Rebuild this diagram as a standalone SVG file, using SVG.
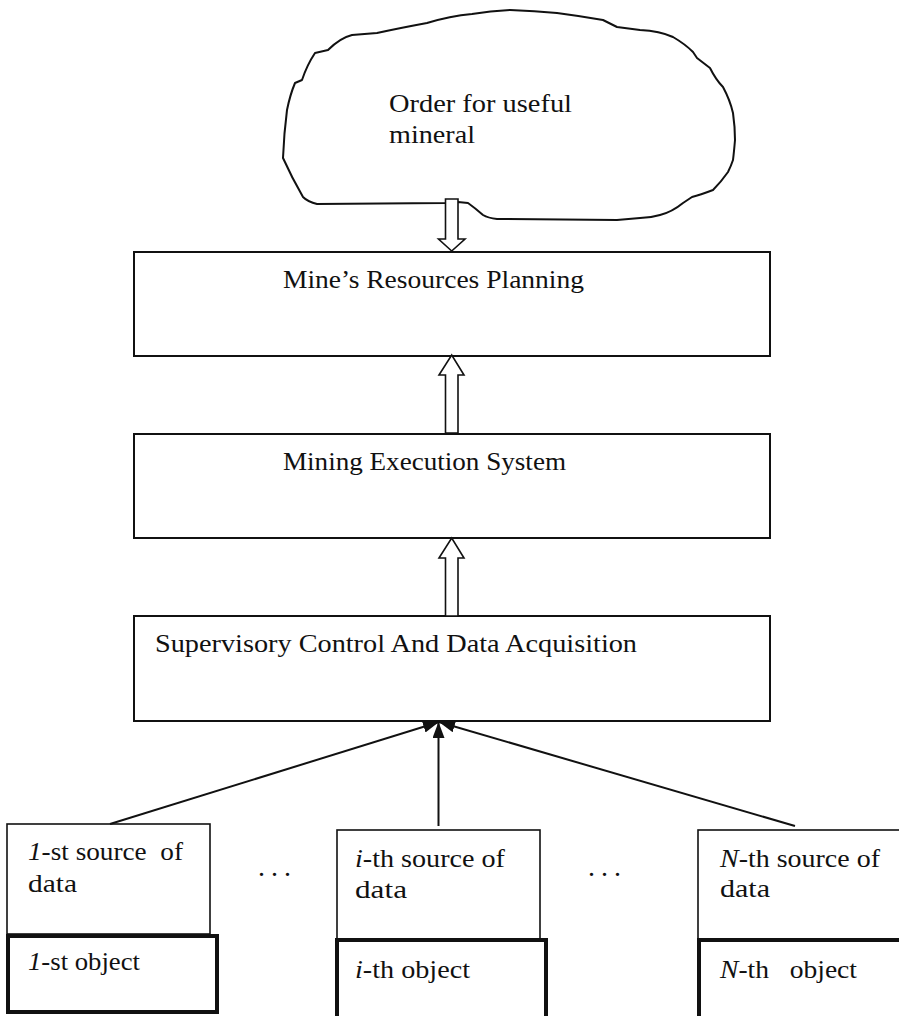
<svg xmlns="http://www.w3.org/2000/svg" width="899" height="1016" viewBox="0 0 899 1016">
  <style>
    text { font-family: "Liberation Serif", "Times New Roman", serif; font-size: 25px; fill: #111; }
    .box { fill: #fff; stroke: #111; stroke-width: 2; }
    .src { fill: #fff; stroke: #111; stroke-width: 1.6; }
    .obj { fill: #fff; stroke: #111; stroke-width: 4; }
    .cloud { fill: #fff; stroke: #111; stroke-width: 2; stroke-linejoin: round; }
    .hollow { fill: #fff; stroke: #111; stroke-width: 1.6; stroke-linejoin: miter; }
    .line { stroke: #111; stroke-width: 2; fill: none; }
    .dots { font-size: 28px; }
  </style>
  <defs>
    <marker id="tip" viewBox="0 0 16 12" refX="16" refY="6" markerWidth="16" markerHeight="12" markerUnits="userSpaceOnUse" orient="auto">
      <path d="M0,0 L16,6 L0,12 z" fill="#111"/>
    </marker>
  </defs>

  <!-- order cloud -->
  <g id="order">
    <path class="cloud" d="M283,158 Q284,133 287,110 Q290,95 295,83 L302,80 Q307,65 315,53 L328,50 Q340,38 352,35 L377,33 Q400,28 427,23 Q450,16 472,14 Q490,11 510,10 Q535,11 557,13 Q580,16 603,20 L617,27 L640,30 Q660,31 673,37 Q685,44 693,52 L697,58 L710,68 Q716,80 723,87 Q730,100 733,113 Q735,127 735,140 Q734,152 733,160 Q731,166 728,172 Q721,182 713,190 Q700,195 692,197 L683,203 Q672,212 660,215 Q650,218 640,218 L617,220 L497,219 Q488,218 483,215 Q475,208 468,203 L458,202 L445,203 L317,204 Q308,202 303,197 Q292,178 283,158 Z"/>
    <text x="389" y="112" textLength="183" lengthAdjust="spacingAndGlyphs">Order for useful</text>
    <text x="389" y="143" textLength="86" lengthAdjust="spacingAndGlyphs">mineral</text>
  </g>

  <!-- planning level -->
  <g id="mrp">
    <rect class="box" x="134" y="252" width="636" height="104"/>
    <text x="283" y="288" textLength="301" lengthAdjust="spacingAndGlyphs">Mine’s Resources Planning</text>
  </g>

  <g id="mes">
    <rect class="box" x="134" y="434" width="636" height="104"/>
    <text x="283" y="470" textLength="283" lengthAdjust="spacingAndGlyphs">Mining Execution System</text>
  </g>

  <g id="scada">
    <rect class="box" x="134" y="616" width="636" height="105"/>
    <text x="155" y="652" textLength="482" lengthAdjust="spacingAndGlyphs">Supervisory Control And Data Acquisition</text>
  </g>

  <!-- data sources and objects -->
  <g id="source-1">
    <rect class="src" x="7" y="824" width="203" height="110"/>
    <text x="28" y="860" textLength="155" lengthAdjust="spacingAndGlyphs" xml:space="preserve"><tspan font-style="italic">1</tspan>-st source  of</text>
    <text x="28" y="892" textLength="49" lengthAdjust="spacingAndGlyphs">data</text>
  </g>
  <g id="object-1">
    <rect class="obj" x="8" y="936" width="209" height="76"/>
    <text x="28" y="970" textLength="112" lengthAdjust="spacingAndGlyphs"><tspan font-style="italic">1</tspan>-st object</text>
  </g>

  <g id="source-i">
    <rect class="src" x="337" y="830" width="203" height="109"/>
    <text x="355" y="867" textLength="150" lengthAdjust="spacingAndGlyphs"><tspan font-style="italic">i</tspan>-th source of</text>
    <text x="355" y="898" textLength="52" lengthAdjust="spacingAndGlyphs">data</text>
  </g>
  <g id="object-i">
    <rect class="obj" x="337" y="940" width="209" height="90"/>
    <text x="355" y="978" textLength="115" lengthAdjust="spacingAndGlyphs"><tspan font-style="italic">i</tspan>-th object</text>
  </g>

  <g id="source-n">
    <rect class="src" x="698" y="830" width="220" height="109"/>
    <text x="720" y="867" textLength="160" lengthAdjust="spacingAndGlyphs"><tspan font-style="italic">N</tspan>-th source of</text>
    <text x="720" y="897" textLength="50" lengthAdjust="spacingAndGlyphs">data</text>
  </g>
  <g id="object-n">
    <rect class="obj" x="699" y="940" width="220" height="90"/>
    <text x="720" y="978" textLength="137" lengthAdjust="spacingAndGlyphs" xml:space="preserve"><tspan font-style="italic">N</tspan>-th   object</text>
  </g>

  <g id="ellipses">
    <text class="dots" x="258 271 284" y="876">...</text>
    <text class="dots" x="588 601 614" y="876">...</text>
  </g>

  <!-- connectors -->
  <g id="connectors">
    <polygon class="hollow" points="445.5,199 458,199 458,239 465,239 451.7,251 438.5,239 445.5,239"/>
    <polygon class="hollow" points="445.5,433 458,433 458,375 464,375 451.7,355 439,375 445.5,375"/>
    <polygon class="hollow" points="445.5,616 458,616 458,558 464,558 451.7,538 439,558 445.5,558"/>
    <line class="line" x1="110" y1="824" x2="439" y2="722" marker-end="url(#tip)"/>
    <line class="line" x1="438.5" y1="826" x2="438.5" y2="722" marker-end="url(#tip)"/>
    <line class="line" x1="795" y1="826" x2="439" y2="722" marker-end="url(#tip)"/>
  </g>
</svg>
